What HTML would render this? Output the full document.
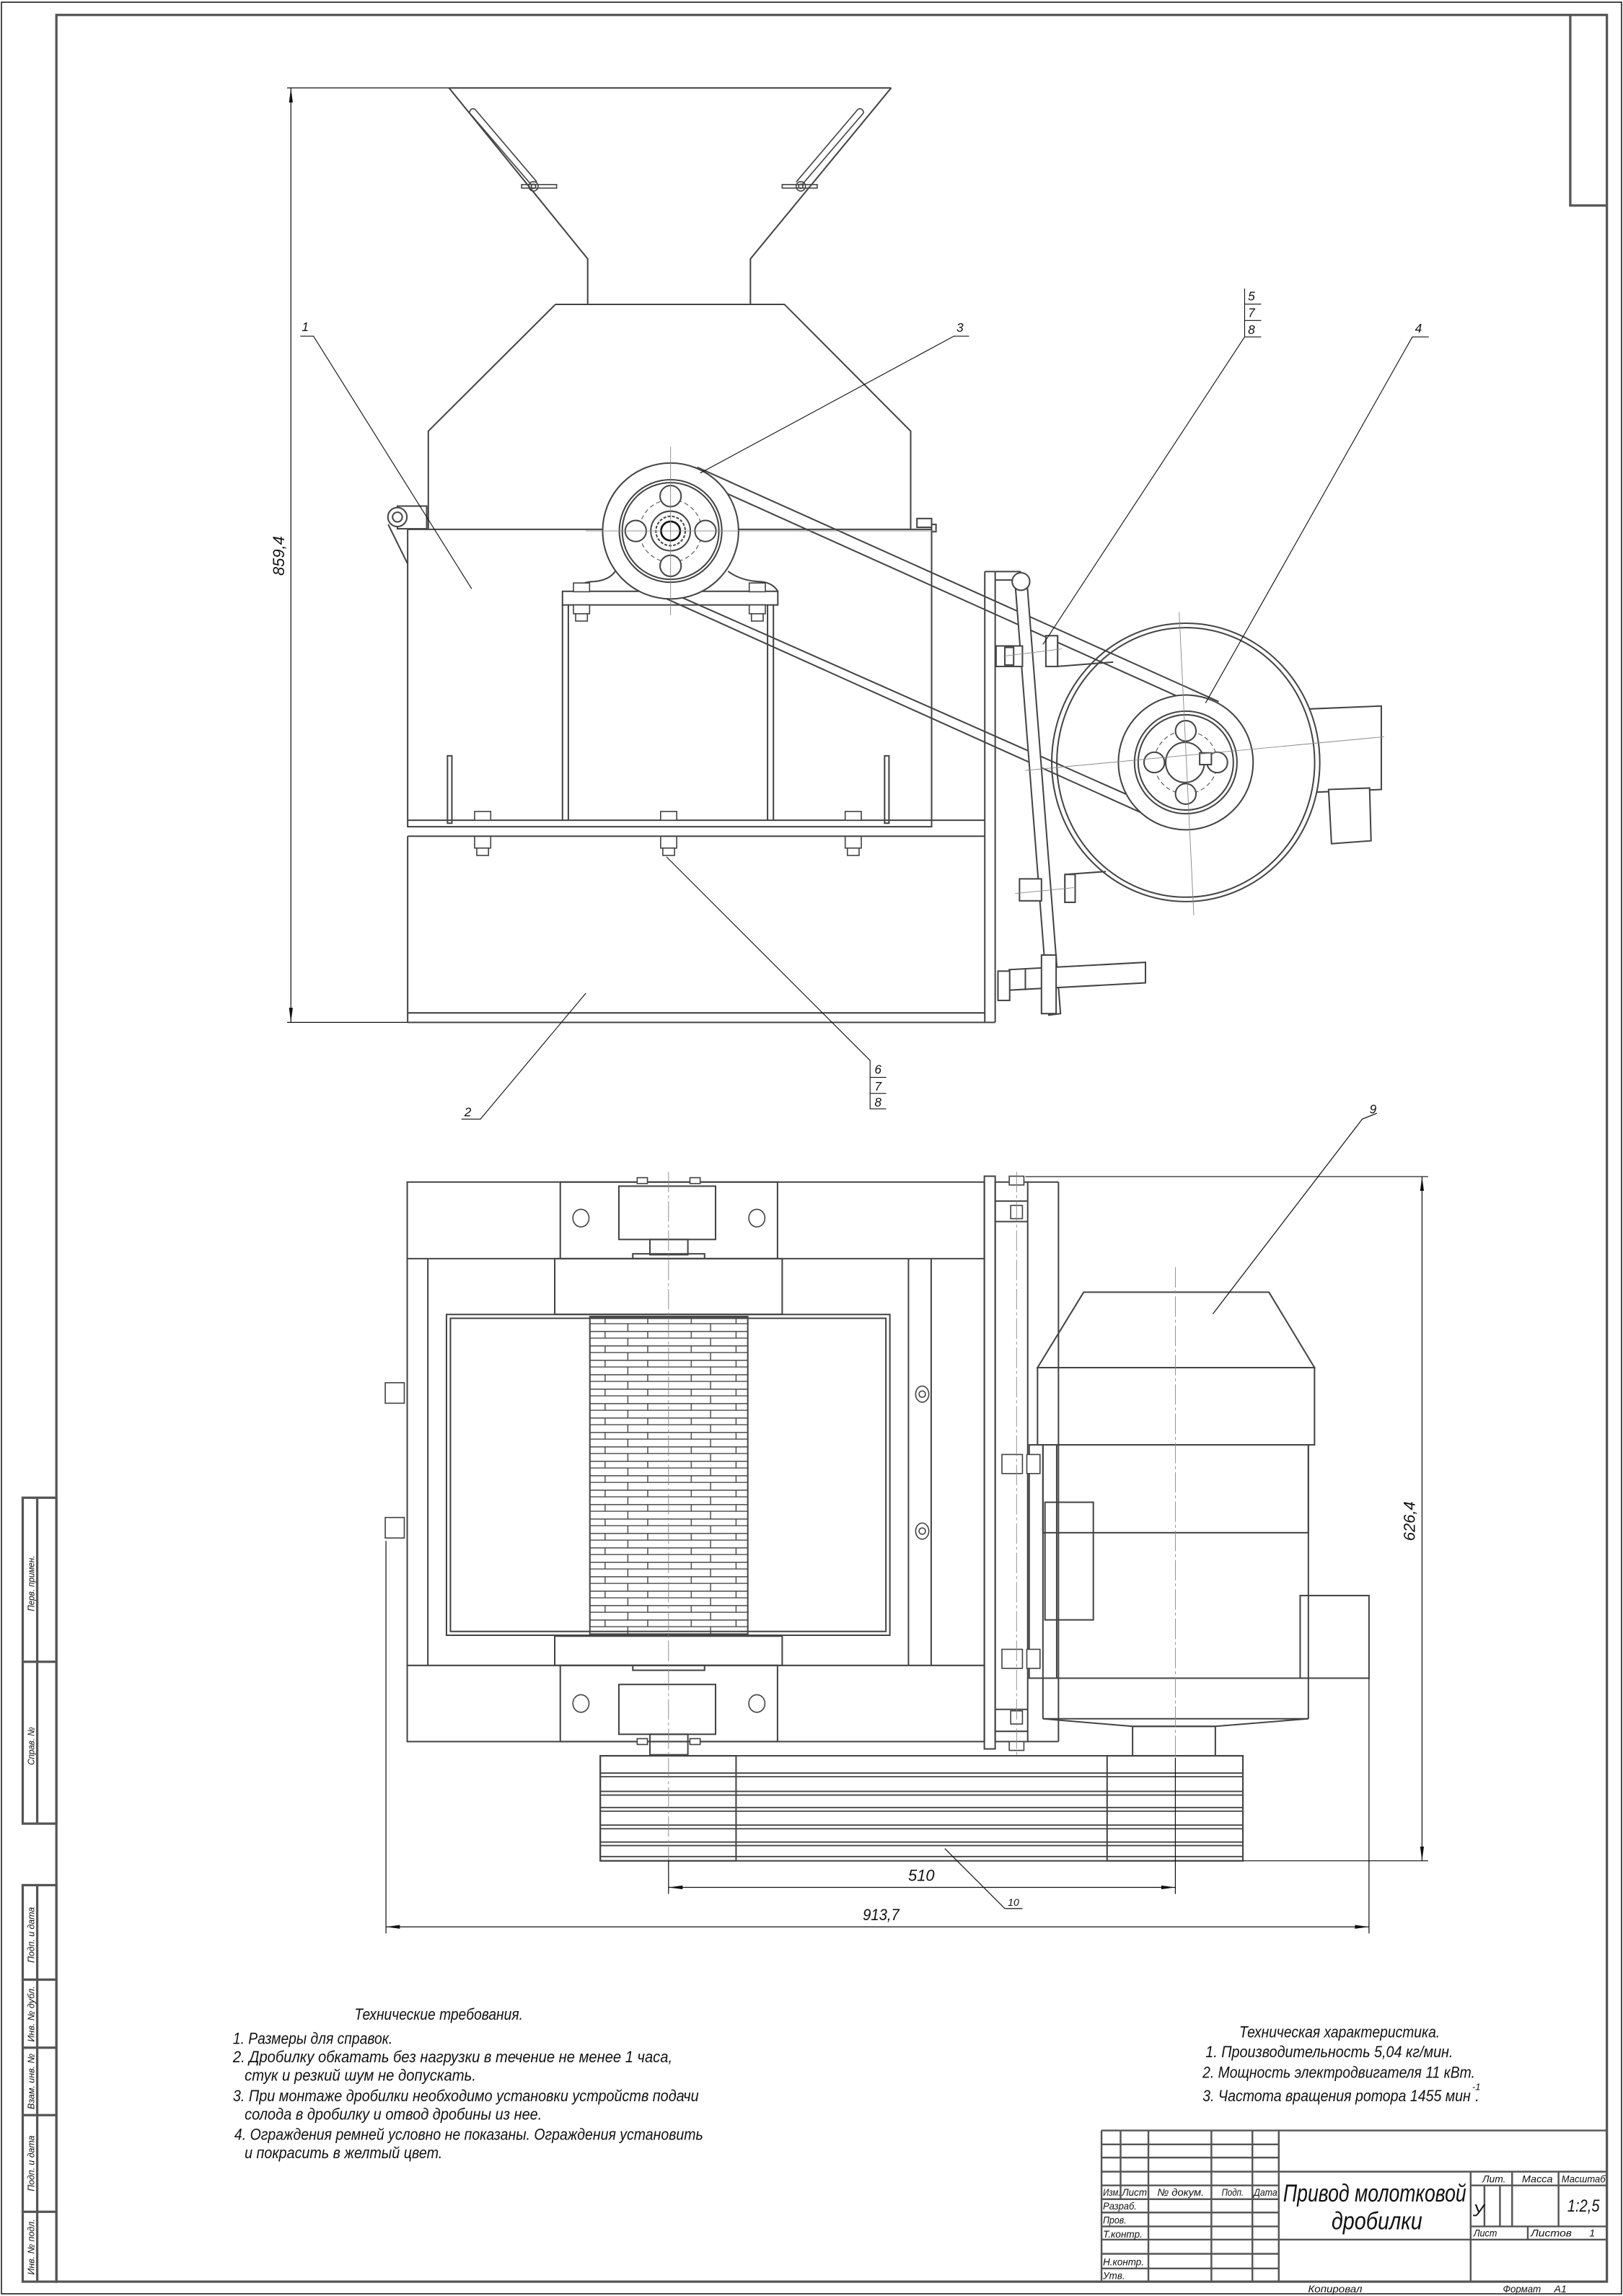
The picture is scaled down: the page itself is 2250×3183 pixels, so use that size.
<!DOCTYPE html>
<html><head><meta charset="utf-8">
<style>
html,body{margin:0;padding:0;background:#fff;}
svg{display:block;}
text{font-family:"Liberation Sans","DejaVu Sans",sans-serif;font-style:italic;fill:#111;}
</style></head>
<body>
<svg xmlns="http://www.w3.org/2000/svg" width="2250" height="3183" viewBox="0 0 1108 1567.5" preserveAspectRatio="none">
<defs>
<pattern id="ham" patternUnits="userSpaceOnUse" x="402.7" y="898.8" width="107.8" height="9.85">
<g stroke="#444" stroke-width="0.7" fill="none">
<line x1="0" y1="0.35" x2="107.8" y2="0.35"/>
<line x1="0" y1="4.9" x2="107.8" y2="4.9"/>
<line x1="10.4" y1="0" x2="10.4" y2="4.9"/><line x1="99.8" y1="0" x2="99.8" y2="4.9"/>
<line x1="39.5" y1="0" x2="39.5" y2="4.9"/><line x1="69.2" y1="0" x2="69.2" y2="4.9"/>
<line x1="25.9" y1="4.9" x2="25.9" y2="9.85"/><line x1="82.4" y1="4.9" x2="82.4" y2="9.85"/>
</g></pattern>
</defs>
<rect width="1108" height="1567.5" fill="#fff"/>
<!-- page border -->
<rect x="1" y="1.5" width="1106" height="1564.5" fill="none" stroke="#222" stroke-width="0.8"/>
<!-- drawing frame -->
<g fill="none" stroke="#555" stroke-width="1.6">
<rect x="38.5" y="10.2" width="1058.5" height="1547.5"/>
<polyline points="1072,10.2 1072,140.3 1097,140.3"/>
<!-- left strip -->
<rect x="15.5" y="1022.5" width="23" height="222.5"/>
<line x1="25.4" y1="1022.5" x2="25.4" y2="1245"/>
<line x1="15.5" y1="1134.5" x2="38.5" y2="1134.5"/>
<rect x="15.5" y="1287" width="23" height="270.7"/>
<line x1="25.4" y1="1287" x2="25.4" y2="1557.7"/>
<line x1="15.5" y1="1351.5" x2="38.5" y2="1351.5"/>
<line x1="15.5" y1="1398" x2="38.5" y2="1398"/>
<line x1="15.5" y1="1444" x2="38.5" y2="1444"/>
<line x1="15.5" y1="1510" x2="38.5" y2="1510"/>
</g>
<g font-size="6.5">
<text transform="translate(23.5,1100) rotate(-90)" textLength="38" lengthAdjust="spacingAndGlyphs">Перв. примен.</text>
<text transform="translate(23.5,1205) rotate(-90)" textLength="26" lengthAdjust="spacingAndGlyphs">Справ. №</text>
<text transform="translate(23.5,1340) rotate(-90)" textLength="38" lengthAdjust="spacingAndGlyphs">Подп. и дата</text>
<text transform="translate(23.5,1394) rotate(-90)" textLength="38" lengthAdjust="spacingAndGlyphs">Инв. № дубл.</text>
<text transform="translate(23.5,1440) rotate(-90)" textLength="38" lengthAdjust="spacingAndGlyphs">Взам. инв. №</text>
<text transform="translate(23.5,1496) rotate(-90)" textLength="38" lengthAdjust="spacingAndGlyphs">Подп. и дата</text>
<text transform="translate(23.5,1553) rotate(-90)" textLength="38" lengthAdjust="spacingAndGlyphs">Инв. № подл.</text>
</g>

<!-- ================= TOP VIEW ================= -->
<g fill="none" stroke="#444" stroke-width="1">
<!-- hopper -->
<polyline points="306.5,60 608.4,60"/>
<polyline points="306.5,60 401.2,176.7 401.2,207.8"/>
<polyline points="608.4,60 512.3,176.7 512.3,207.8"/>
<!-- body top -->
<polyline points="379.2,207.8 535.5,207.8 621.7,294.3 621.7,361"/>
<polyline points="379.2,207.8 292.4,294.3 292.4,361"/>
<!-- box -->
<rect x="278.3" y="361.4" width="357.7" height="203"/>
<line x1="278.3" y1="560" x2="672.3" y2="560"/>
<line x1="278.3" y1="570.9" x2="672.3" y2="570.9"/>
<line x1="278.3" y1="570.9" x2="278.3" y2="698"/>
<line x1="278.3" y1="698" x2="679.4" y2="698"/>
<line x1="278.3" y1="691.5" x2="672.3" y2="691.5"/>
<line x1="672.3" y1="390.2" x2="672.3" y2="698"/>
<line x1="679.4" y1="390.2" x2="679.4" y2="698"/>
<line x1="672.3" y1="390.2" x2="697" y2="390.2"/>
<line x1="679.4" y1="396" x2="697" y2="396"/>
<!-- lug -->
<rect x="271.3" y="345.5" width="20" height="15.5"/>
<circle cx="271.3" cy="353" r="6.5" fill="#fff"/>
<circle cx="271.3" cy="353" r="3.3"/>
<line x1="265" y1="358" x2="278.3" y2="385"/>
<!-- right small nut -->
<rect x="626" y="354" width="10" height="6"/>
<rect x="636" y="358" width="3" height="5"/>
<!-- stand under pulley -->
<line x1="384" y1="413" x2="384" y2="560"/><line x1="388" y1="413" x2="388" y2="560"/>
<line x1="524" y1="413" x2="524" y2="560"/><line x1="528" y1="413" x2="528" y2="560"/>
<rect x="384" y="403.7" width="147" height="9.3"/>
<path d="M392,403.7 Q396,397 406,397 Q416,396 420,390 M531,403.7 Q527,397 517,397 Q505,396 497,390"/>
<!-- vertical rods -->
<rect x="305.5" y="516" width="3" height="46"/>
<rect x="603.9" y="516" width="3" height="46"/>
</g>
<!-- hopper slots & wing nuts -->
<g fill="none" stroke="#444" stroke-width="0.8">
<path d="M320.5,77 L363,126.5 M324.2,74.5 L366.5,124.2 M320.5,77 Q321,73.5 324.2,74.5"/>
<path d="M589.6,77 L547.2,126.5 M585.8,74.5 L543.6,124.2 M589.6,77 Q589,73.5 585.8,74.5"/>
<circle cx="364.2" cy="127.2" r="3.2"/><circle cx="364.2" cy="127.2" r="1.5"/>
<rect x="356.1" y="126" width="23.9" height="2.4"/>
<circle cx="546.7" cy="127.2" r="3.2"/><circle cx="546.7" cy="127.2" r="1.5"/>
<rect x="534" y="126" width="23.9" height="2.4"/>
</g>
<!-- bolts on stand -->
<g fill="#fff" stroke="#444" stroke-width="0.8">
<rect x="391.5" y="398" width="11" height="6"/><rect x="391.5" y="413" width="11" height="6"/><rect x="393" y="419" width="8" height="5"/>
<rect x="511.5" y="398" width="11" height="6"/><rect x="511.5" y="413" width="11" height="6"/><rect x="513" y="419" width="8" height="5"/>
<rect x="324" y="554" width="11" height="6"/><rect x="324" y="571" width="11" height="8"/><rect x="325.5" y="579" width="8" height="5"/>
<rect x="451" y="554" width="11" height="6"/><rect x="451" y="571" width="11" height="8"/><rect x="452.5" y="579" width="8" height="5"/>
<rect x="577" y="554" width="11" height="6"/><rect x="577" y="571" width="11" height="8"/><rect x="578.5" y="579" width="8" height="5"/>
</g>
<!-- motor circle and box -->
<g fill="#fff" stroke="#444" stroke-width="1">
<polygon points="894,484 943,482 943,539 894,541"/>
<polygon points="907,539 935,538 936,574 909,576"/>
<ellipse cx="809.5" cy="520.5" rx="91.5" ry="95"/>
<ellipse cx="809.5" cy="520.5" rx="88" ry="92" fill="none"/>
<!-- motor brackets -->
<polyline points="722,434 722,455 760,452" fill="none"/>
<polyline points="727,597 727,616 734,616" fill="none"/>
<line x1="727" y1="597" x2="755" y2="595"/>
</g>
<!-- belts -->
<g fill="none" stroke="#444" stroke-width="1">
<line x1="476" y1="319" x2="832" y2="479"/>
<line x1="472" y1="326" x2="823" y2="484"/>
<line x1="451" y1="407" x2="795" y2="562"/>
<line x1="459" y1="405" x2="800" y2="556"/>
</g>
<!-- small pulley -->
<g fill="#fff" stroke="#444" stroke-width="1">
<circle cx="809.5" cy="520.5" r="46"/>
<circle cx="809.5" cy="520.5" r="35" fill="none"/>
<circle cx="809.5" cy="520.5" r="32.5" fill="none"/>
<circle cx="809.5" cy="520.5" r="21.5" fill="none" stroke-dasharray="3,2" stroke-width="0.5"/>
<circle cx="809.5" cy="499" r="7"/><circle cx="809.5" cy="542" r="7"/>
<circle cx="788" cy="520.5" r="7"/><circle cx="831" cy="520.5" r="7"/>
<ellipse cx="809" cy="520.5" rx="13.2" ry="13.7"/>
<rect x="819" y="514" width="8" height="8"/>
</g>
<!-- tension plate -->
<g fill="#fff" stroke="#444" stroke-width="1">
<polygon points="693,398 701,396 724,692 716,693"/>
<circle cx="697" cy="397" r="6"/>
<rect x="680" y="441" width="18" height="14"/><rect x="686" y="442" width="6" height="12" fill="none"/>
<rect x="714" y="434" width="8" height="21"/>
<rect x="696" y="600" width="15" height="15"/><rect x="727" y="597" width="7" height="19"/>
<polygon points="689,662 782,657 782,671 689,676"/>
<rect x="681.3" y="663" width="8" height="20"/>
<rect x="711" y="652" width="10" height="40"/>
<line x1="700" y1="661" x2="700" y2="676"/>
</g>
<!-- big pulley -->
<g fill="#fff" stroke="#444" stroke-width="1">
<circle cx="457.8" cy="362.5" r="46.4"/>
<circle cx="457.8" cy="362.5" r="35" fill="none"/>
<circle cx="457.8" cy="362.5" r="33" fill="none"/>
<circle cx="457.8" cy="362.5" r="21.3" fill="none" stroke-dasharray="3,2" stroke-width="0.5"/>
<circle cx="457.8" cy="338.7" r="7.2"/><circle cx="457.8" cy="386.3" r="7.2"/>
<circle cx="434" cy="362.5" r="7.2"/><circle cx="481.6" cy="362.5" r="7.2"/>
<circle cx="457.8" cy="362.5" r="13.5"/>
<circle cx="457.8" cy="362.5" r="10" fill="none" stroke-dasharray="2,1"/>
<circle cx="457.8" cy="362.5" r="6.5" stroke="#111" stroke-width="1.3"/>
</g>
<!-- centre lines top view -->
<g stroke="#888" stroke-width="0.45" fill="none">
<line x1="400" y1="362.5" x2="640" y2="362.5"/>
<line x1="457.8" y1="305" x2="457.8" y2="420"/>
<line x1="700" y1="526" x2="945" y2="503"/>
<line x1="805" y1="418" x2="815" y2="625"/>
<line x1="685" y1="448" x2="725" y2="443"/>
<line x1="693" y1="610" x2="733" y2="606"/>
</g>
<!-- dimension 859,4 -->
<g stroke="#111" stroke-width="0.6" fill="none">
<line x1="196" y1="60" x2="306.5" y2="60"/>
<line x1="196" y1="698" x2="278.3" y2="698"/>
<line x1="198.6" y1="60" x2="198.6" y2="698"/>
</g>
<polygon points="198.6,60 197.3,70 199.9,70" fill="#111"/>
<polygon points="198.6,698 197.3,688 199.9,688" fill="#111"/>
<text transform="translate(194,393) rotate(-90)" font-size="11" textLength="27" lengthAdjust="spacingAndGlyphs">859,4</text>
<!-- leaders top -->
<g stroke="#111" stroke-width="0.55" fill="none">
<polyline points="205,229.5 214,229.5 322,402"/>
<polyline points="661.6,229.5 651.2,229.5 478,323"/>
<polyline points="849.7,197 849.7,230 712,440"/>
<line x1="849.7" y1="207.6" x2="861" y2="207.6"/><line x1="849.7" y1="218.8" x2="861" y2="218.8"/><line x1="849.7" y1="230" x2="861" y2="230"/>
<polyline points="975.4,230 964.2,230 823,480"/>
<polyline points="594,724 594,757 605,757"/>
<line x1="594" y1="735.5" x2="605" y2="735.5"/><line x1="594" y1="746.5" x2="605" y2="746.5"/>
<line x1="594" y1="724" x2="455" y2="585"/>
<polyline points="315,764 328,764 400,678"/>
</g>
<g font-size="8.5">
<text x="206" y="226">1</text>
<text x="653" y="226.5">3</text>
<text x="852" y="205">5</text><text x="852" y="216.5">7</text><text x="852" y="228">8</text>
<text x="966" y="227">4</text>
<text x="597" y="733">6</text><text x="597" y="744.5">7</text><text x="597" y="755.5">8</text>
<text x="317" y="762">2</text>
</g>

<!-- ================= BOTTOM VIEW ================= -->
<g fill="none" stroke="#444" stroke-width="1">
<rect x="278" y="807" width="394" height="382"/>
<line x1="278" y1="859.3" x2="672" y2="859.3"/>
<line x1="278" y1="1137" x2="672" y2="1137"/>
<line x1="292.1" y1="859.3" x2="292.1" y2="1137"/>
<line x1="620.2" y1="859.3" x2="620.2" y2="1137"/>
<line x1="635.7" y1="859.3" x2="635.7" y2="1137"/>
<rect x="378.7" y="859.3" width="155.3" height="38"/>
<rect x="378.7" y="1117" width="155.3" height="20"/>
<rect x="304.8" y="897.4" width="302.7" height="219"/>
<rect x="307.5" y="900" width="297.3" height="213.8"/>
<!-- bearing housings -->
<rect x="382.5" y="807" width="148.3" height="52.3"/>
<rect x="422.5" y="809.8" width="66" height="36.4"/>
<rect x="443.7" y="846.2" width="25.9" height="10.4"/>
<rect x="432" y="856" width="49" height="3.3"/>
<rect x="382.5" y="1137" width="148.3" height="52"/>
<rect x="422.5" y="1150" width="66" height="34"/>
<rect x="432" y="1137" width="49" height="3.3"/>
<rect x="443.7" y="1184" width="25.9" height="14"/>
<!-- plate / post -->
<rect x="672" y="803" width="7.4" height="391"/>
<rect x="679.4" y="807" width="22.2" height="382"/>
<line x1="701.6" y1="807" x2="722.6" y2="807"/>
<line x1="722.6" y1="807" x2="722.6" y2="1189"/>
<line x1="701.6" y1="1189" x2="722.6" y2="1189"/>
<line x1="679.4" y1="820" x2="701.6" y2="820"/>
<line x1="679.4" y1="834" x2="701.6" y2="834"/>
<line x1="679.4" y1="1167" x2="701.6" y2="1167"/>
<line x1="679.4" y1="1182" x2="701.6" y2="1182"/>
<!-- motor -->
<polygon points="739.8,882.2 866.3,882.2 897.4,933.7 708.3,933.7"/>
<rect x="708.3" y="933.7" width="189.1" height="52.7"/>
<rect x="712" y="986.4" width="181.2" height="60"/>
<line x1="712" y1="986.4" x2="712" y2="1173.4"/>
<line x1="893.2" y1="986.4" x2="893.2" y2="1173.4"/>
<line x1="712" y1="1145.7" x2="893.2" y2="1145.7"/>
<line x1="712" y1="1173.4" x2="893.2" y2="1173.4"/>
<polyline points="712,1173.4 773.2,1178.6 829.7,1178.6 893.2,1173.4"/>
<rect x="773.2" y="1178.6" width="56.5" height="20.4"/>
<rect x="713.4" y="1025.6" width="33" height="80.3"/>
<rect x="887.6" y="1089.3" width="47" height="56.4"/>
<rect x="702.6" y="986.4" width="18.8" height="159.3"/>
</g>
<rect x="402.7" y="898.8" width="107.8" height="216.8" fill="url(#ham)" stroke="#444" stroke-width="1"/>
<!-- pulleys block -->
<g fill="#fff" stroke="#444" stroke-width="1">
<rect x="409.8" y="1198.7" width="438.7" height="71.7"/>
<rect x="409.8" y="1198.7" width="92.7" height="71.7" fill="none"/>
<rect x="755.8" y="1198.7" width="92.7" height="71.7" fill="none"/>
</g>
<g stroke="#444" stroke-width="0.9">
<line x1="409.8" y1="1210.5" x2="848.5" y2="1210.5"/><line x1="409.8" y1="1213" x2="848.5" y2="1213"/>
<line x1="409.8" y1="1223" x2="848.5" y2="1223"/><line x1="409.8" y1="1225.5" x2="848.5" y2="1225.5"/>
<line x1="409.8" y1="1234" x2="848.5" y2="1234"/><line x1="409.8" y1="1236.5" x2="848.5" y2="1236.5"/>
<line x1="409.8" y1="1246" x2="848.5" y2="1246"/><line x1="409.8" y1="1248.5" x2="848.5" y2="1248.5"/>
<line x1="409.8" y1="1257.6" x2="848.5" y2="1257.6"/><line x1="409.8" y1="1260" x2="848.5" y2="1260"/>
<line x1="409.8" y1="1267.5" x2="848.5" y2="1267.5"/>
</g>
<!-- bolts bottom view -->
<g fill="#fff" stroke="#444" stroke-width="0.8">
<ellipse cx="396.6" cy="831.6" rx="5.5" ry="6"/><ellipse cx="516.7" cy="831.6" rx="5.5" ry="6"/>
<ellipse cx="396.6" cy="1163" rx="5.5" ry="6"/><ellipse cx="516.7" cy="1163" rx="5.5" ry="6"/>
<ellipse cx="629.6" cy="951.8" rx="4.5" ry="5.5"/><ellipse cx="629.6" cy="1045.3" rx="4.5" ry="5.5"/>
<circle cx="629.6" cy="951.8" r="2.2"/><circle cx="629.6" cy="1045.3" r="2.2"/>
<rect x="435" y="804" width="7" height="4"/><rect x="471" y="804" width="7" height="4"/>
<rect x="435" y="1187" width="7" height="4"/><rect x="471" y="1187" width="7" height="4"/>
<rect x="263" y="944" width="13" height="14"/><rect x="263" y="1036" width="13" height="14"/>
<rect x="689" y="803" width="10" height="6"/><rect x="690" y="823" width="8" height="9"/>
<rect x="689" y="1189" width="10" height="6"/><rect x="690" y="1168" width="8" height="9"/>
<rect x="684" y="993" width="14" height="13"/><rect x="701" y="993" width="9" height="13"/>
<rect x="684" y="1126" width="14" height="13"/><rect x="701" y="1126" width="9" height="13"/>
</g>
<!-- centre lines bottom view -->
<g stroke="#888" stroke-width="0.45" fill="none" stroke-dasharray="14,2,2,2">
<line x1="456.4" y1="800" x2="456.4" y2="1275"/>
<line x1="802.4" y1="865" x2="802.4" y2="1275"/>
<line x1="694" y1="800" x2="694" y2="1200"/>
</g>
<!-- dimensions bottom -->
<g stroke="#111" stroke-width="0.6" fill="none">
<line x1="700" y1="803.3" x2="975" y2="803.3"/>
<line x1="848.5" y1="1270.4" x2="975" y2="1270.4"/>
<line x1="970.8" y1="803.3" x2="970.8" y2="1270.4"/>
<line x1="456.4" y1="1270" x2="456.4" y2="1293"/>
<line x1="802.4" y1="1200" x2="802.4" y2="1293"/>
<line x1="456.4" y1="1288.5" x2="802.4" y2="1288.5"/>
<line x1="263.5" y1="1052" x2="263.5" y2="1320"/>
<line x1="934.6" y1="1145.7" x2="934.6" y2="1320"/>
<line x1="263.5" y1="1315.5" x2="934.6" y2="1315.5"/>
<polyline points="940,760 930,764 828,897"/>
<polyline points="698,1303 686,1303 645,1262"/>
</g>
<g fill="#111">
<polygon points="970.8,803.3 969.5,813 972.1,813"/><polygon points="970.8,1270.4 969.5,1260.7 972.1,1260.7"/>
<polygon points="456.4,1288.5 466,1287.2 466,1289.8"/><polygon points="802.4,1288.5 792.8,1287.2 792.8,1289.8"/>
<polygon points="263.5,1315.5 273,1314.2 273,1316.8"/><polygon points="934.6,1315.5 925,1314.2 925,1316.8"/>
</g>
<text x="620" y="1284" font-size="11" textLength="18" lengthAdjust="spacingAndGlyphs">510</text>
<text x="589" y="1311" font-size="11" textLength="25" lengthAdjust="spacingAndGlyphs">913,7</text>
<text transform="translate(966,1052) rotate(-90)" font-size="11" textLength="27" lengthAdjust="spacingAndGlyphs">626,4</text>
<text x="935" y="760" font-size="8.5">9</text>
<text x="688" y="1301" font-size="7">10</text>

<!-- ================= TEXTS ================= -->
<g font-size="11">
<text x="242" y="1379" textLength="115" lengthAdjust="spacingAndGlyphs">Технические требования.</text>
<text x="159" y="1395.5" textLength="109" lengthAdjust="spacingAndGlyphs">1. Размеры для справок.</text>
<text x="159" y="1408" textLength="300" lengthAdjust="spacingAndGlyphs">2. Дробилку обкатать без нагрузки в течение не менее 1 часа,</text>
<text x="167" y="1420.5" textLength="158" lengthAdjust="spacingAndGlyphs">стук и резкий шум не допускать.</text>
<text x="159" y="1434.6" textLength="318" lengthAdjust="spacingAndGlyphs">3. При монтаже дробилки необходимо установки устройств подачи</text>
<text x="167" y="1447" textLength="203" lengthAdjust="spacingAndGlyphs">солода в дробилку и отвод дробины из нее.</text>
<text x="160" y="1461" textLength="320" lengthAdjust="spacingAndGlyphs">4. Ограждения ремней условно не показаны. Ограждения установить</text>
<text x="167" y="1473.5" textLength="135" lengthAdjust="spacingAndGlyphs">и покрасить в желтый цвет.</text>
<text x="846" y="1391" textLength="137" lengthAdjust="spacingAndGlyphs">Техническая характеристика.</text>
<text x="823" y="1404.5" textLength="169" lengthAdjust="spacingAndGlyphs">1. Производительность 5,04 кг/мин.</text>
<text x="821" y="1418.5" textLength="186" lengthAdjust="spacingAndGlyphs">2. Мощность электродвигателя 11 кВт.</text>
<text x="821" y="1434.5" textLength="183" lengthAdjust="spacingAndGlyphs">3. Частота вращения ротора 1455 мин</text>
<text x="1005" y="1427" font-size="6.5">-1</text>
<text x="1007" y="1434.5">.</text>
</g>

<!-- ================= TITLE BLOCK ================= -->
<g fill="none" stroke="#555" stroke-width="1.2">
<line x1="752" y1="1454.5" x2="1097" y2="1454.5"/>
<line x1="752" y1="1454.5" x2="752" y2="1557.7"/>
<line x1="765" y1="1454.5" x2="765" y2="1501.4"/>
<line x1="784" y1="1454.5" x2="784" y2="1557.7"/>
<line x1="827" y1="1454.5" x2="827" y2="1557.7"/>
<line x1="855" y1="1454.5" x2="855" y2="1557.7"/>
<line x1="873" y1="1454.5" x2="873" y2="1557.7"/>
<line x1="1004" y1="1482.6" x2="1004" y2="1557.7"/>
<line x1="1013.4" y1="1492" x2="1013.4" y2="1520"/>
<line x1="1024" y1="1492" x2="1024" y2="1520"/>
<line x1="1032.3" y1="1482.6" x2="1032.3" y2="1520"/>
<line x1="1064" y1="1482.6" x2="1064" y2="1520"/>
<line x1="1043" y1="1520" x2="1043" y2="1529"/>
<line x1="752" y1="1464" x2="873" y2="1464"/>
<line x1="752" y1="1473" x2="873" y2="1473"/>
<line x1="752" y1="1482.6" x2="1097" y2="1482.6"/>
<line x1="752" y1="1492" x2="873" y2="1492"/>
<line x1="1004" y1="1492" x2="1097" y2="1492"/>
<line x1="752" y1="1501.4" x2="873" y2="1501.4"/>
<line x1="752" y1="1510.5" x2="873" y2="1510.5"/>
<line x1="752" y1="1520" x2="873" y2="1520"/>
<line x1="1004" y1="1520" x2="1097" y2="1520"/>
<line x1="752" y1="1529" x2="1097" y2="1529"/>
<line x1="752" y1="1538.7" x2="873" y2="1538.7"/>
<line x1="752" y1="1548.7" x2="873" y2="1548.7"/>
</g>
<g font-size="7">
<text x="753" y="1499" textLength="12" lengthAdjust="spacingAndGlyphs">Изм.</text>
<text x="766" y="1499" textLength="17" lengthAdjust="spacingAndGlyphs">Лист</text>
<text x="790" y="1499" textLength="32" lengthAdjust="spacingAndGlyphs">№ докум.</text>
<text x="834" y="1499" textLength="15" lengthAdjust="spacingAndGlyphs">Подп.</text>
<text x="856" y="1499" textLength="16" lengthAdjust="spacingAndGlyphs">Дата</text>
<text x="753" y="1508.5" textLength="23" lengthAdjust="spacingAndGlyphs">Разраб.</text>
<text x="753" y="1518" textLength="16" lengthAdjust="spacingAndGlyphs">Пров.</text>
<text x="753" y="1527.5" textLength="27" lengthAdjust="spacingAndGlyphs">Т.контр.</text>
<text x="753" y="1546.5" textLength="28" lengthAdjust="spacingAndGlyphs">Н.контр.</text>
<text x="753" y="1556" textLength="15" lengthAdjust="spacingAndGlyphs">Утв.</text>
<text x="1012" y="1490" textLength="16" lengthAdjust="spacingAndGlyphs">Лит.</text>
<text x="1039" y="1490" textLength="21" lengthAdjust="spacingAndGlyphs">Масса</text>
<text x="1066" y="1490" textLength="30" lengthAdjust="spacingAndGlyphs">Масштаб</text>
<text x="1006" y="1527" textLength="16" lengthAdjust="spacingAndGlyphs">Лист</text>
<text x="1045" y="1527" textLength="28" lengthAdjust="spacingAndGlyphs">Листов</text>
<text x="1085" y="1527">1</text>
<text x="893" y="1565" textLength="37" lengthAdjust="spacingAndGlyphs">Копировал</text>
<text x="1026" y="1565" textLength="26" lengthAdjust="spacingAndGlyphs">Формат</text>
<text x="1061" y="1565">А1</text>
</g>
<text x="1005.5" y="1513" font-size="12">У</text>
<text x="1070" y="1510" font-size="12" textLength="22" lengthAdjust="spacingAndGlyphs">1:2,5</text>
<text x="876" y="1503" font-size="17" textLength="125" lengthAdjust="spacingAndGlyphs">Привод молотковой</text>
<text x="909" y="1522" font-size="17" textLength="62" lengthAdjust="spacingAndGlyphs">дробилки</text>
</svg>
</body></html>
